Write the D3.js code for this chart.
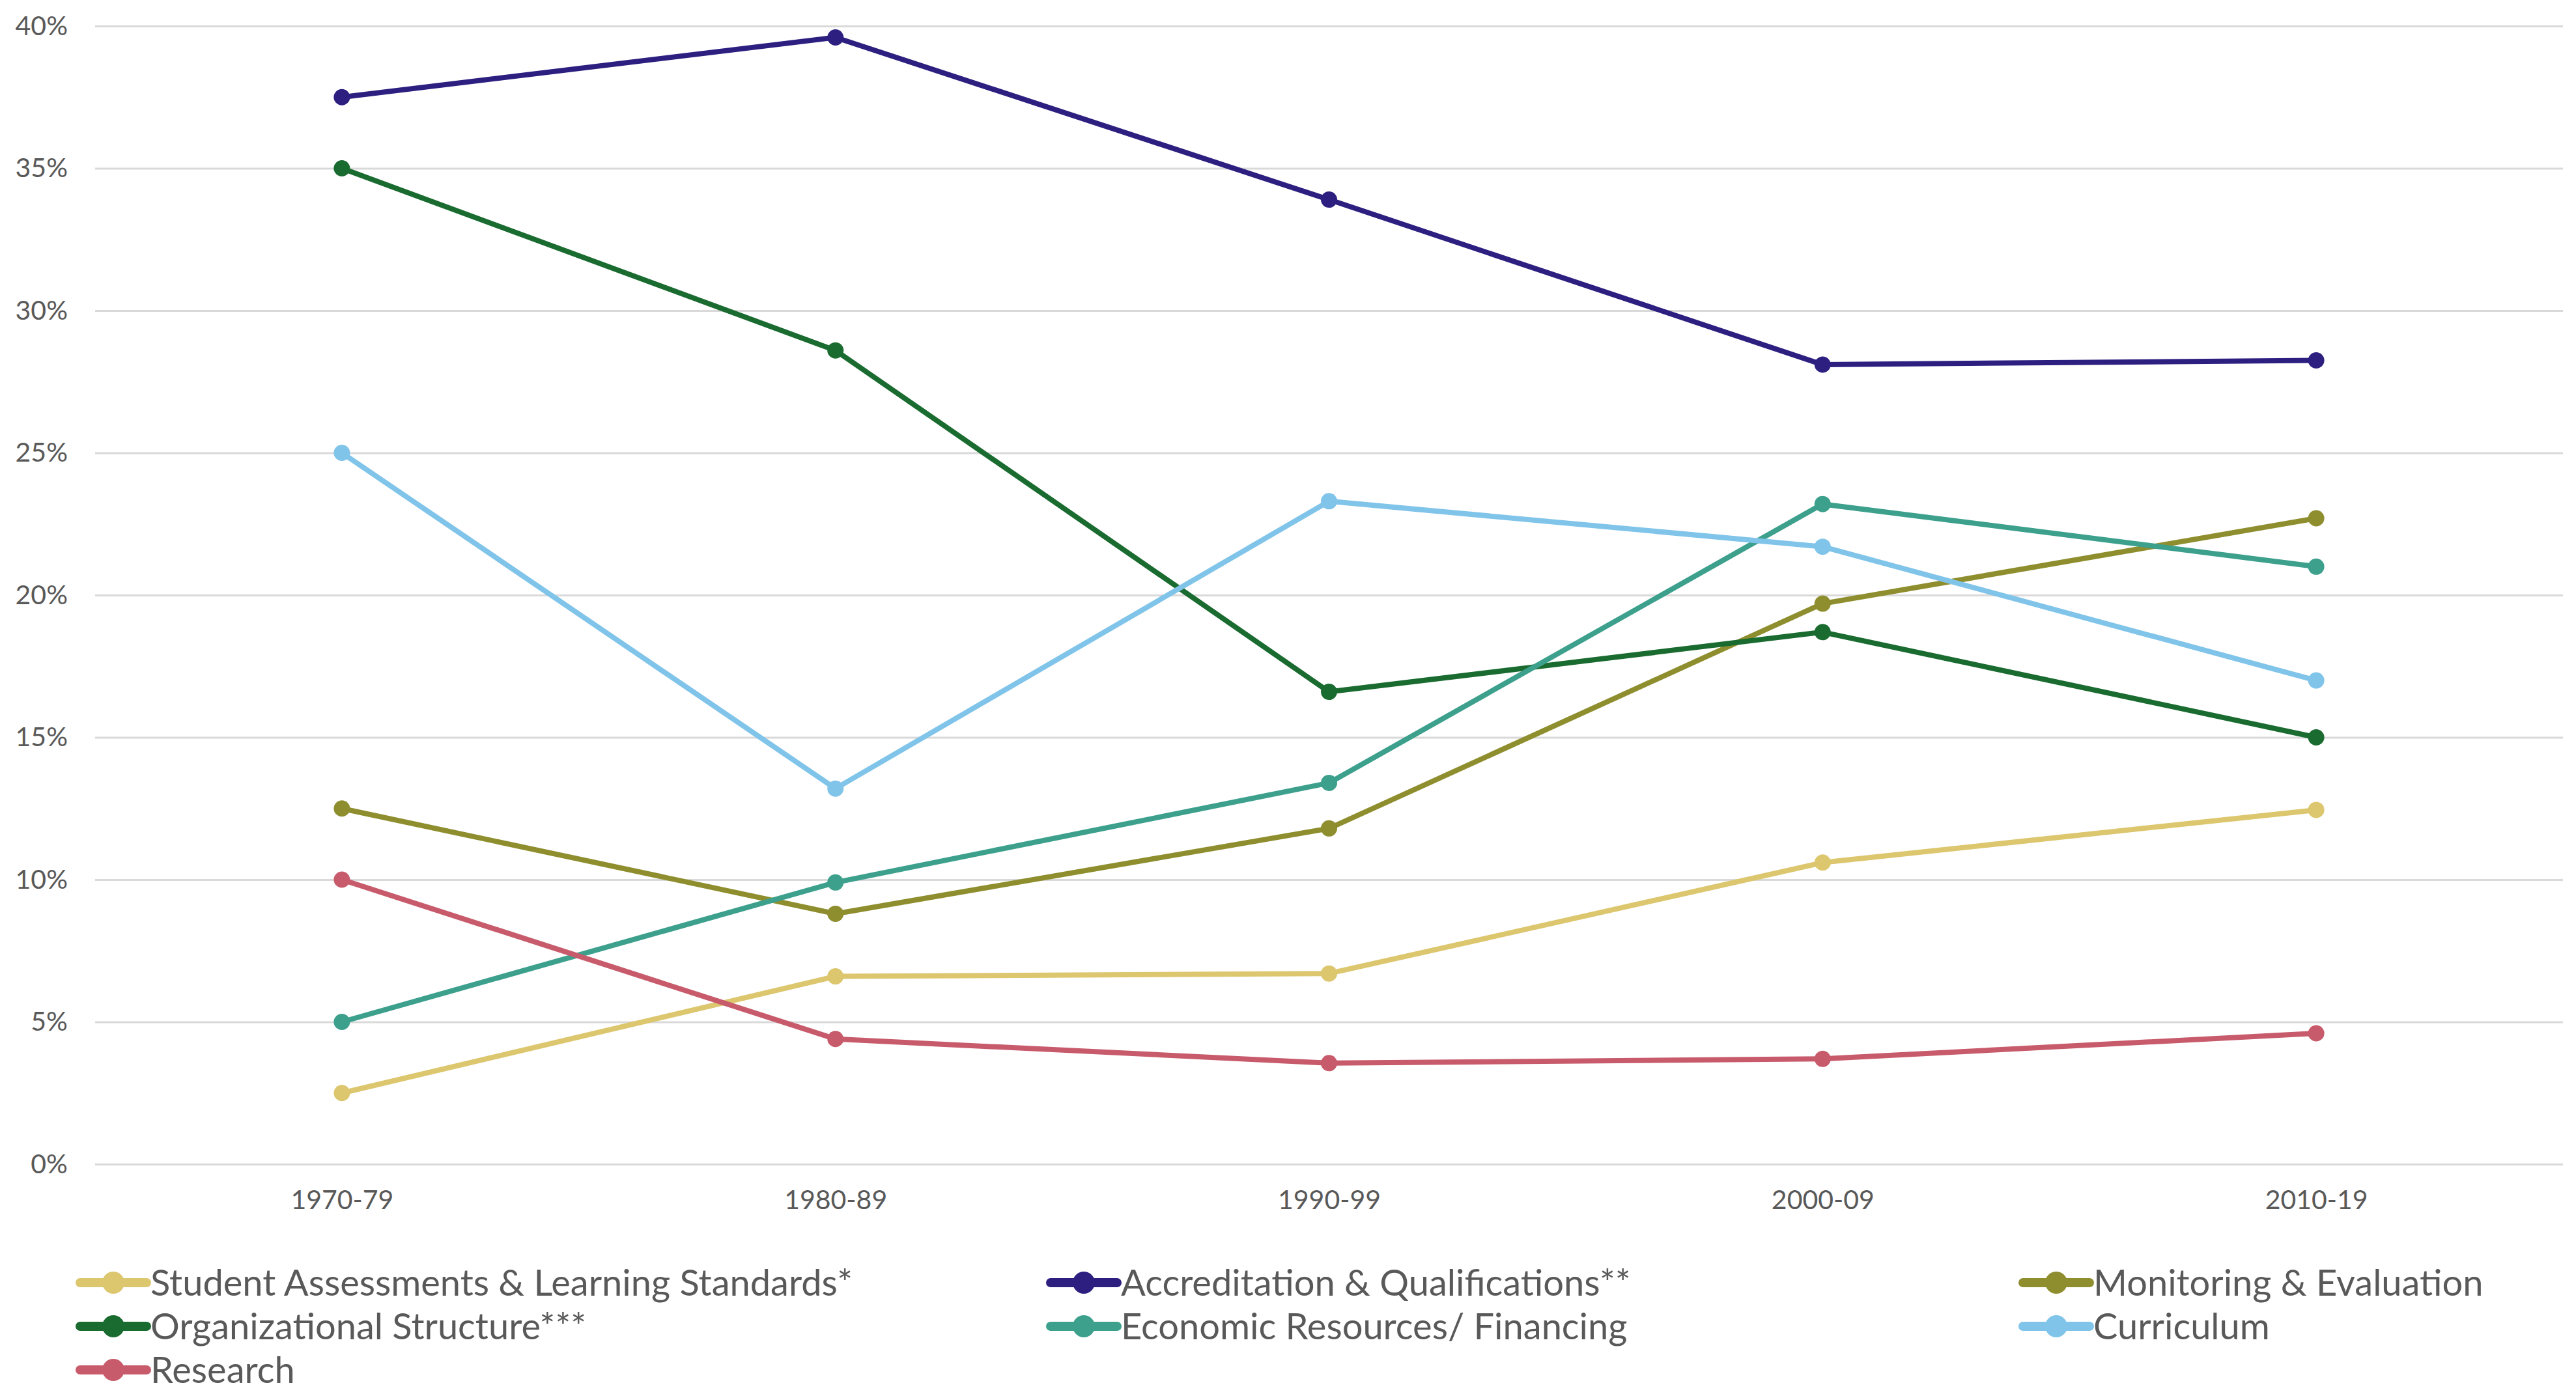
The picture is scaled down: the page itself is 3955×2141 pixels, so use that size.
<!DOCTYPE html>
<html>
<head>
<meta charset="utf-8">
<script src="https://cdn.jsdelivr.net/npm/d3@7"></script>
<style>
  html, body { margin: 0; padding: 0; background: #ffffff; }
  svg { display: block; }
</style>
</head>
<body>
<svg id="chart" width="3955" height="2141"></svg>
<script>
// ---- data ----
const categories = ["1970-79", "1980-89", "1990-99", "2000-09", "2010-19"];
const seriesNames = [
  "Student Assessments & Learning Standards*",
  "Accreditation & Qualifications**",
  "Monitoring & Evaluation",
  "Organizational Structure***",
  "Economic Resources/ Financing",
  "Curriculum",
  "Research"
];
const studentAssessments = [2.5, 6.6, 6.7, 10.6, 12.45];
const accreditation = [37.5, 39.6, 33.9, 28.1, 28.25];
const monitoring = [12.5, 8.8, 11.8, 19.7, 22.7];
const organizational = [35.0, 28.6, 16.6, 18.7, 15.0];
const economic = [5.0, 9.9, 13.4, 23.2, 21.0];
const curriculum = [25.0, 13.2, 23.3, 21.7, 17.0];
const research = [10.0, 4.4, 3.55, 3.7, 4.6];
const yTicks = [0, 5, 10, 15, 20, 25, 30, 35, 40];
const seriesColors = ["#DCC66E", "#2C1F80", "#8E8E2F", "#1A6B30", "#3CA08D", "#80C4EA", "#C85B6B"];

const seriesValues = [studentAssessments, accreditation, monitoring, organizational, economic, curriculum, research];
const series = seriesNames.map((name, i) => ({ name, values: seriesValues[i], color: seriesColors[i] }));

// ---- layout ----
const svg = d3.select("#chart");
const plot = { left: 146, right: 3935, top: 40, bottom: 1788 };
const fontFamily = "Lato, 'Open Sans', sans-serif";

const x = d3.scalePoint().domain(categories).range([plot.left, plot.right]).padding(0.5);
const y = d3.scaleLinear().domain([0, 40]).range([plot.bottom, plot.top]);

// gridlines + y labels
const yAxis = d3.axisLeft(y)
  .tickValues(yTicks)
  .tickSize(-(plot.right - plot.left))
  .tickPadding(42)
  .tickFormat(d => d + "%");
const gy = svg.append("g").attr("transform", `translate(${plot.left},0)`).call(yAxis);
gy.select(".domain").remove();
gy.selectAll(".tick line").attr("stroke", "#d9d9d9").attr("stroke-width", 3);
gy.selectAll(".tick text")
  .attr("fill", "#595959")
  .style("font-family", fontFamily)
  .style("font-size", "41px");

// x labels
const xAxis = d3.axisBottom(x).tickSize(0).tickPadding(40);
const gx = svg.append("g").attr("transform", `translate(0,${plot.bottom})`).call(xAxis);
gx.select(".domain").remove();
gx.selectAll(".tick text")
  .attr("fill", "#595959")
  .style("font-family", fontFamily)
  .style("font-size", "41px");

// lines
const line = d3.line().x((d, i) => x(categories[i])).y(d => y(d));
const gSeries = svg.append("g");
series.forEach(s => {
  gSeries.append("path")
    .attr("d", line(s.values))
    .attr("fill", "none")
    .attr("stroke", s.color)
    .attr("stroke-width", 8)
    .attr("stroke-linejoin", "round")
    .attr("stroke-linecap", "round");
});
series.forEach(s => {
  gSeries.selectAll(null)
    .data(s.values)
    .enter()
    .append("circle")
    .attr("cx", (d, i) => x(categories[i]))
    .attr("cy", d => y(d))
    .attr("r", 12.5)
    .attr("fill", s.color);
});

// legend
const legendCols = [119, 1609, 3102];
const legendRows = [1970, 2037, 2104];
const legend = svg.append("g");
series.forEach((s, i) => {
  const col = i % 3, row = Math.floor(i / 3);
  const lx = legendCols[col], ly = legendRows[row];
  const g = legend.append("g").attr("transform", `translate(${lx},${ly})`);
  g.append("line").attr("x1", 4).attr("x2", 106).attr("y1", 0).attr("y2", 0)
    .attr("stroke", s.color).attr("stroke-width", 14).attr("stroke-linecap", "round");
  g.append("circle").attr("cx", 55).attr("cy", 0).attr("r", 17).attr("fill", s.color);
  g.append("text")
    .attr("x", 112)
    .attr("y", 0)
    .attr("dy", "0.35em")
    .attr("fill", "#595959")
    .style("font-family", fontFamily)
    .style("font-size", "56px")
    .text(s.name);
});
</script>
</body>
</html>
